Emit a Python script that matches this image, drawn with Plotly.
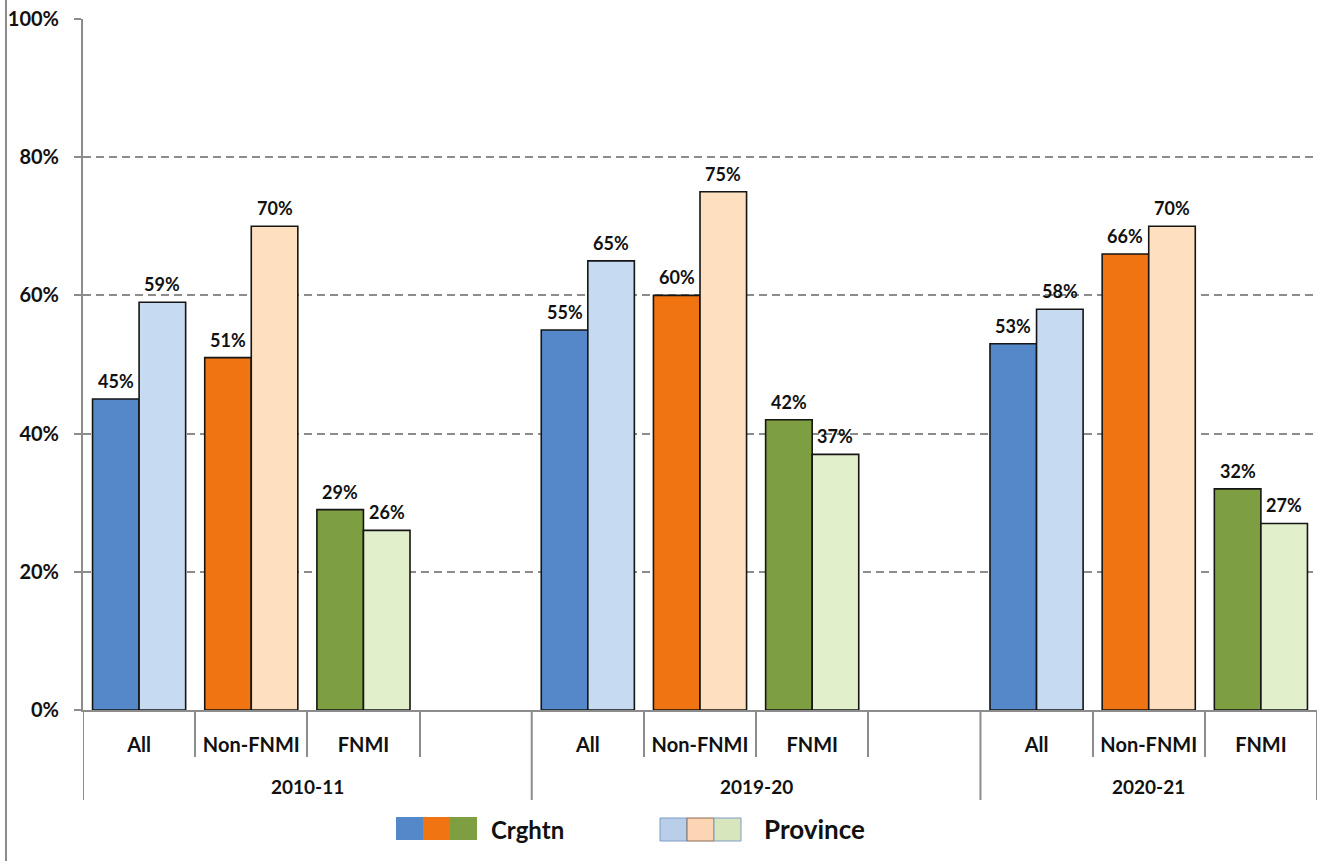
import plotly.graph_objects as go

# ---- data ----
years = ["2010-11", "2019-20", "2020-21"]
groups = ["All", "Non-FNMI", "FNMI"]
crghtn = [[45, 51, 29], [55, 60, 42], [53, 66, 32]]
province = [[59, 70, 26], [65, 75, 37], [58, 70, 27]]
y_ticks = [0, 20, 40, 60, 80, 100]
y_tick_text = [f"{v}%" for v in y_ticks]

dark_colors = ["#5588C8", "#F07512", "#7E9E42"]
light_colors = ["#C6DAF1", "#FEDFC0", "#E2EFCB"]

# slot layout: each year gets 4 slots (last one empty), except the final year
slots_per_year = [4, 4, 3]
starts = [sum(slots_per_year[:i]) for i in range(len(years))]
n_slots = sum(slots_per_year)

x_pos, c_vals, p_vals, c_cols, p_cols = [], [], [], [], []
for yi, yr in enumerate(years):
    for gi, g in enumerate(groups):
        x_pos.append(starts[yi] + gi)
        c_vals.append(crghtn[yi][gi])
        p_vals.append(province[yi][gi])
        c_cols.append(dark_colors[gi])
        p_cols.append(light_colors[gi])

tick_vals = list(range(n_slots))
tick_text = []
for yi in range(len(years)):
    for s in range(slots_per_year[yi]):
        tick_text.append(groups[s] if s < len(groups) else "")

inner_bounds = []
outer_bounds = [-0.5]
for yi in range(len(years)):
    for s in range(slots_per_year[yi] - 1):
        inner_bounds.append(starts[yi] + s + 0.5)
    outer_bounds.append(starts[yi] + slots_per_year[yi] - 0.5)

BARGAP = 0.17
bar_w = (1 - BARGAP) / 2

fig = go.Figure()
fig.add_trace(go.Bar(
    name="Crghtn", x=x_pos, y=c_vals,
    marker=dict(color=c_cols, line=dict(color="#151515", width=1.6)),
))
fig.add_trace(go.Bar(
    name="Province", x=x_pos, y=p_vals,
    marker=dict(color=p_cols, line=dict(color="#151515", width=1.6)),
))

L, R, T, B = 83, 8, 19, 151
W, H = 1325, 861
pw, ph = W - L - R, H - T - B


def px_x(px):
    return (px - L) / pw


def px_y(py):
    return (H - B - py) / ph


bold = dict(family="Lato", color="#111111", weight="bold")

shapes = []
# long dividers between years
for xb in outer_bounds:
    shapes.append(dict(type="line", xref="x", yref="paper", x0=xb, x1=xb,
                       y0=0, y1=px_y(800), line=dict(color="#8C8C8C", width=2)))
# outer left border
shapes.append(dict(type="line", xref="paper", yref="paper", x0=px_x(6), x1=px_x(6),
                   y0=px_y(861), y1=px_y(0), line=dict(color="#8C8C8C", width=2)))

annotations = []
# value labels above each bar
for xp, cv, pv in zip(x_pos, c_vals, p_vals):
    for off, v in ((-bar_w / 2, cv), (bar_w / 2, pv)):
        annotations.append(dict(x=xp + off, xref="x", y=v, yref="y", text=f"{v}%",
                                showarrow=False, xanchor="center", yanchor="bottom",
                                yshift=5, font=dict(size=18, **bold)))

for yi, yr in enumerate(years):
    cx = starts[yi] + (slots_per_year[yi] - 1) / 2
    annotations.append(dict(x=cx, xref="x", y=px_y(786), yref="paper", text=yr,
                            showarrow=False, xanchor="center", yanchor="middle",
                            font=dict(size=19, **bold)))

# legend swatches
box_w = 27
for i, col in enumerate(dark_colors):
    x0 = 396 + i * box_w
    shapes.append(dict(type="rect", xref="paper", yref="paper",
                       x0=px_x(x0), x1=px_x(x0 + box_w), y0=px_y(840), y1=px_y(817),
                       fillcolor=col, line=dict(width=0)))
annotations.append(dict(x=px_x(489), xref="paper", y=px_y(829), yref="paper", text="Crghtn",
                        showarrow=False, xanchor="left", yanchor="middle",
                        font=dict(size=24, **bold)))
outline_cols = ["#7F9CC4", "#8A6A50", "#7F9CC4"]
fill_cols = ["#B9CEE8", "#FCD5B5", "#D8E6BE"]
for i in range(len(light_colors)):
    x0 = 660 + i * box_w
    shapes.append(dict(type="rect", xref="paper", yref="paper",
                       x0=px_x(x0), x1=px_x(x0 + box_w), y0=px_y(841), y1=px_y(818),
                       fillcolor=fill_cols[i], line=dict(color=outline_cols[i], width=1)))
annotations.append(dict(x=px_x(762), xref="paper", y=px_y(829), yref="paper", text="Province",
                        showarrow=False, xanchor="left", yanchor="middle",
                        font=dict(size=26, **bold)))

fig.update_layout(
    width=W, height=H,
    margin=dict(l=L, r=R, t=T, b=B),
    paper_bgcolor="white", plot_bgcolor="white",
    barmode="group", bargap=BARGAP, bargroupgap=0,
    showlegend=False,
    shapes=shapes, annotations=annotations,
    xaxis=dict(
        range=[-0.5, n_slots - 0.5], tickvals=tick_vals, ticktext=tick_text,
        ticks="", showgrid=False, zeroline=False, automargin=False,
        showline=True, linecolor="#8C8C8C", linewidth=2,
        tickfont=dict(size=20, **bold),
        ticklabelstandoff=16,
        minor=dict(tickvals=inner_bounds, ticks="outside", ticklen=45,
                   tickcolor="#8C8C8C", tickwidth=2),
    ),
    yaxis=dict(
        range=[0, 100], tickvals=y_ticks, ticktext=y_tick_text,
        ticks="outside", ticklen=7, tickcolor="#8C8C8C", tickwidth=2,
        showline=True, linecolor="#8C8C8C", linewidth=2,
        showgrid=True, gridcolor="#8C8C8C", gridwidth=1.5, griddash="8px,5px",
        zeroline=False, automargin=False,
        tickfont=dict(size=20, **bold),
        ticklabelstandoff=11,
    ),
)

fig.write_html("out.html")
